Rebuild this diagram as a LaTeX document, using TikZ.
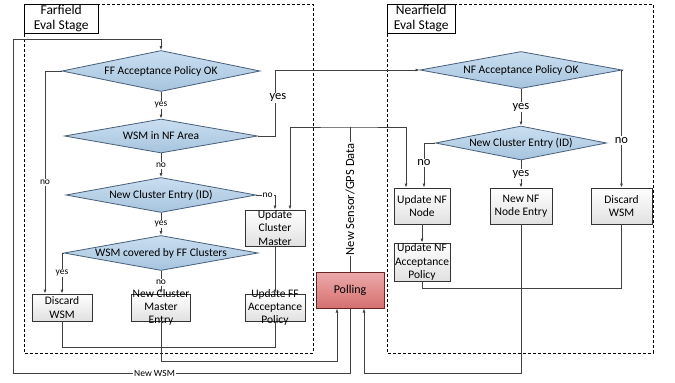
\documentclass[tikz,border=0pt]{standalone}
\usepackage{fontspec}
\setmainfont{Carlito}
\usetikzlibrary{shapes.geometric,arrows.meta}

\definecolor{dmtop}{RGB}{202,222,240}
\definecolor{dmbot}{RGB}{166,196,222}
\definecolor{dmline}{RGB}{70,95,122}
\definecolor{polltop}{RGB}{236,170,170}
\definecolor{pollbot}{RGB}{214,112,112}
\definecolor{pollline}{RGB}{105,35,35}

\begin{document}
\begin{tikzpicture}[x=1pt, y=-1pt, >={Latex[length=4pt,width=3pt]},
    every node/.style={font=\fontsize{11.5}{13.3}\selectfont},
    decision/.style={diamond, aspect=5.5, draw=dmline, line width=0.8pt, top color=dmtop, bottom color=dmbot, inner sep=0pt},
    box/.style={rectangle, draw=black!80, line width=0.8pt, top color=white, bottom color=black!12, inner sep=0pt},
    boxtxt/.style={align=center, inner sep=0pt},
    stage/.style={draw, fill=white, align=center, inner sep=0pt, anchor=north west, font=\fontsize{13.5}{14.5}\selectfont},
    frame/.style={densely dashed, black, line width=0.7pt},
    conn/.style={draw=black!75, line width=0.8pt},
    lbl/.style={fill=white, inner sep=1pt, font=\fontsize{12.5}{14}\selectfont},
    lblsm/.style={fill=white, inner sep=1pt, font=\fontsize{9.5}{11}\selectfont}]

    \fill[white] (0,0) rectangle (675,383);
    \useasboundingbox (0,0) rectangle (675,383);

    % stage frames
    \draw[frame] (24,4) rectangle (313,353);
    \draw[frame] (387,4) rectangle (653,353);
    \node[stage, minimum width=74pt, minimum height=29pt] (ffstage) at (24,4) {Farfield\\Eval Stage};
    \node[stage, minimum width=68pt, minimum height=29pt] (nfstage) at (387,4) {Nearfield\\Eval Stage};

    % farfield
    \node[decision, minimum width=198pt, minimum height=41pt] (ffpol) at (161,71) {FF Acceptance Policy OK};
    \node[decision, minimum width=193pt, minimum height=34pt] (nfarea) at (161,136) {WSM in NF Area};
    \node[decision, minimum width=190pt, minimum height=35pt] (ffnew) at (161,195) {New Cluster Entry (ID)};
    \node[decision, minimum width=194pt, minimum height=35pt] (ffcov) at (161,253) {WSM covered by FF Clusters};

    \node[box, minimum width=60pt, minimum height=27pt, label={[boxtxt]center:{Discard\\WSM}}] (ffdisc) at (62,307.5) {};
    \node[box, minimum width=59pt, minimum height=27pt, label={[boxtxt]center:{New Cluster\\Master\\Entry}}] (ffmaster) at (161,307.5) {};
    \node[box, minimum width=60pt, minimum height=27pt, label={[boxtxt]center:{Update FF\\Acceptance\\Policy}}] (ffupdpol) at (275,307.5) {};
    \node[box, minimum width=60pt, minimum height=36pt, label={[boxtxt]center:{Update\\Cluster\\Master}}] (ffupdcm) at (275,228) {};

    \node[draw=pollline, line width=1pt, top color=polltop, bottom color=pollbot, minimum width=68pt, minimum height=36pt, font=\fontsize{12}{14}\selectfont] (poll) at (350,290) {Polling};

    % nearfield
    \node[decision, minimum width=202pt, minimum height=37pt] (nfpol) at (521,70) {NF Acceptance Policy OK};
    \node[decision, minimum width=171pt, minimum height=34pt] (nfnew) at (521,143) {New Cluster Entry (ID)};

    \node[box, minimum width=56pt, minimum height=36pt, label={[boxtxt]center:{Update NF\\Node}}] (nfupd) at (422,206) {};
    \node[box, minimum width=62pt, minimum height=36pt, label={[boxtxt]center:{New NF\\Node Entry}}] (nfentry) at (521,206) {};
    \node[box, minimum width=61pt, minimum height=36pt, label={[boxtxt]center:{Discard\\WSM}}] (nfdisc) at (621.5,206) {};
    \node[box, minimum width=56pt, minimum height=38pt, label={[boxtxt]center:{Update NF\\Acceptance\\Policy}}] (nfupdpol) at (422,262) {};

    \coordinate (wsmtop) at (13,39);
    \coordinate (wsmbot) at (13,373);
    \coordinate (gps) at (350,127);
    \coordinate (ffpoll) at (337,361);
    \coordinate (nfpoll) at (364,373);

    % farfield connectors
    \draw[conn, ->] (poll.south) |- node[lblsm, pos=0.79] {New WSM} (wsmbot) -- (wsmtop) -| (ffpol.north);
    \draw[conn, ->] (ffpol.south) -- node[lblsm] {yes} (nfarea.north);
    \draw[conn, ->] (ffpol.west) -| node[lblsm, pos=0.75] {no} ([xshift=-17pt]ffdisc.north);
    \draw[conn, ->] (nfarea.east) -- ++(17,0) |- node[lbl, pos=0.29, xshift=3pt] {yes} (nfpol.west);
    \draw[conn, ->] (nfarea.south) -- node[lblsm] {no} (ffnew.north);
    \draw[conn, ->] (ffnew.east) -| node[lblsm, pos=0.3] {no} (ffupdcm.north);
    \draw[conn, ->] (ffnew.south) -- node[lblsm] {yes} (ffcov.north);
    \draw[conn, ->] (ffcov.west) -| node[lblsm, pos=0.75] {yes} (ffdisc.north);
    \draw[conn, ->] (ffcov.south) -- node[lblsm] {no} (ffmaster.north);
    \draw[conn, ->] (ffupdcm.south) -- (ffupdpol.north);
    \draw[conn] (ffdisc.south) -- ++(0,26) -| (ffupdpol.south);
    \draw[conn, ->] (ffmaster.south) |- (ffpoll) -- ([xshift=-13pt]poll.south);

    % sensor data
    \draw[conn, <->] ([xshift=15pt]ffupdcm.north) |- (gps) -| ([xshift=-16pt]nfupd.north);
    \draw[conn] (poll.north) -- node[lbl, rotate=90] {New Sensor/GPS Data} (gps);

    % nearfield connectors
    \draw[conn, ->] (nfpol.south) -- node[lbl] {yes} (nfnew.north);
    \draw[conn, ->] (nfpol.east) -| node[lbl, pos=0.8] {no} (nfdisc.north);
    \draw[conn, ->] (nfnew.west) -| node[lbl, pos=0.72] {no} ([xshift=2pt]nfupd.north);
    \draw[conn, ->] (nfnew.south) -- node[lbl] {yes} (nfentry.north);
    \draw[conn, ->] (nfupd.south) -- (nfupdpol.north);
    \draw[conn] (nfupdpol.south) -- ++(0,7) -| (nfdisc.south);
    \draw[conn, ->] (nfentry.south) |- (nfpoll) -- ([xshift=14pt]poll.south);
\end{tikzpicture}
\end{document}
